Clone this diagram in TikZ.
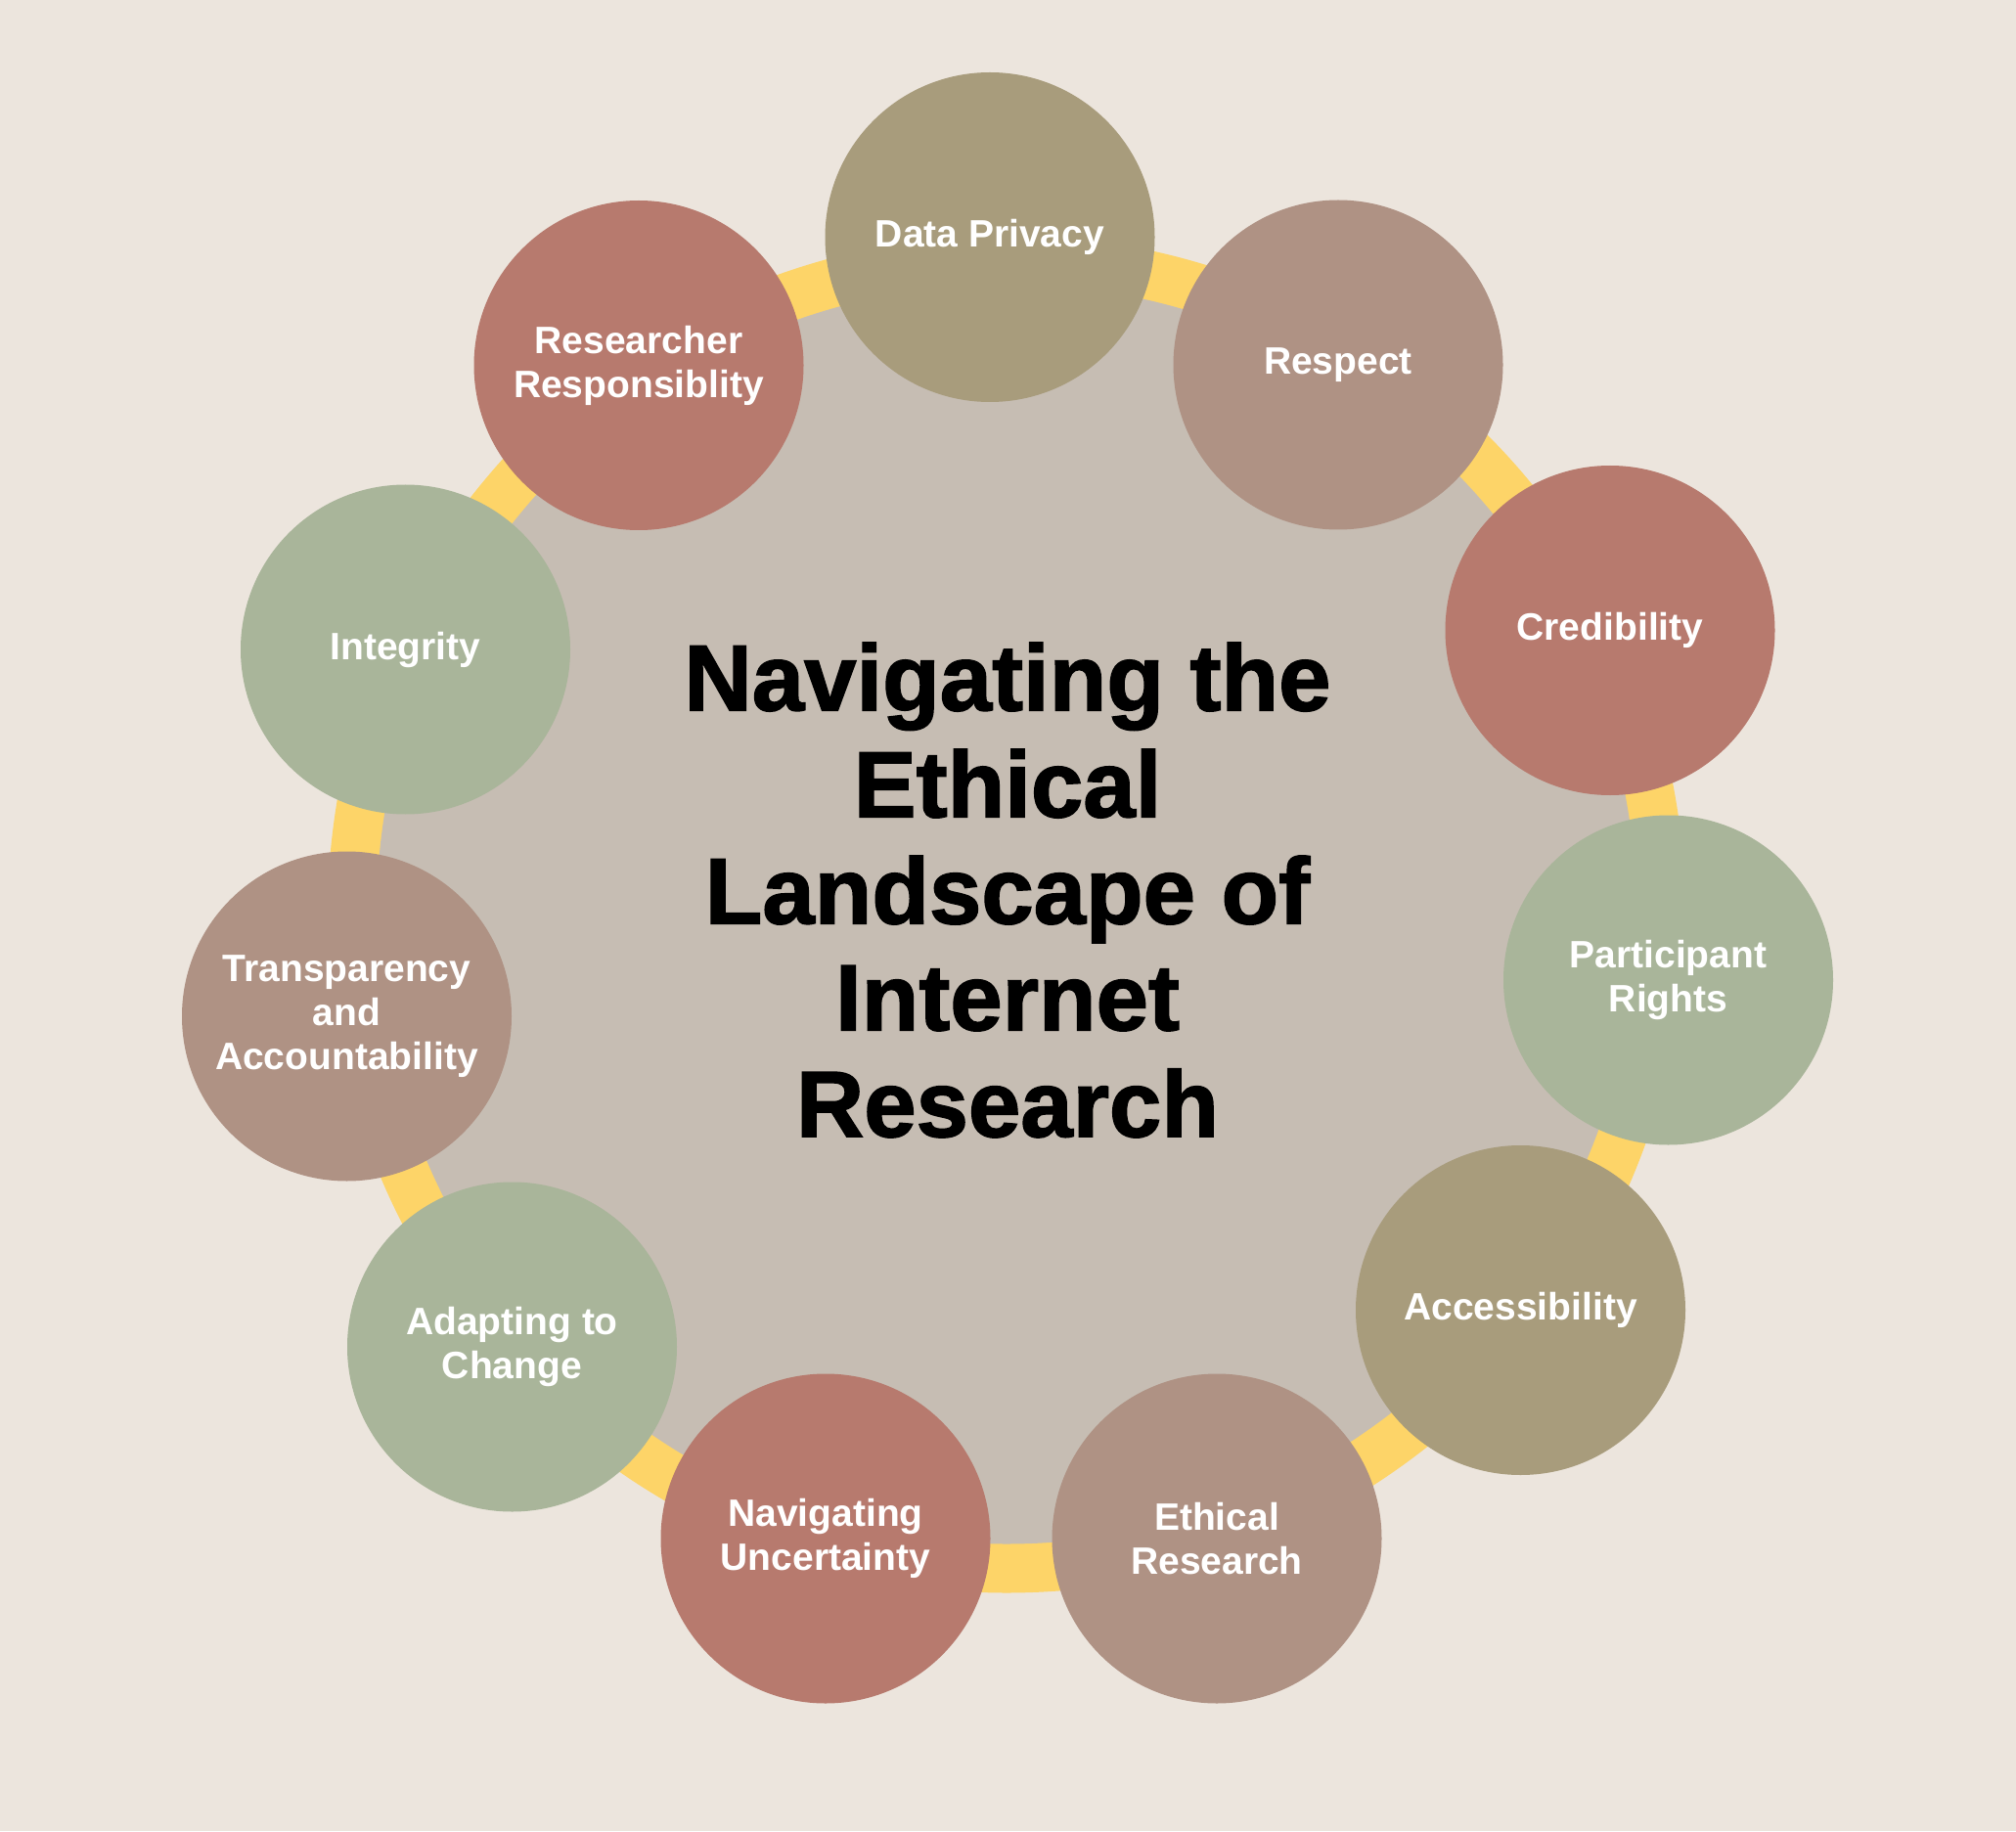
\documentclass[tikz,border=0pt]{standalone}
\usepackage{fontspec}
\setmainfont{Liberation Sans}
\newfontfamily\titlefont{Liberation Sans Bold}[FakeBold=1.6]
\usepackage{tikz}
\usetikzlibrary{positioning}

\definecolor{bgcol}{HTML}{ECE5DD}
\definecolor{ringcol}{HTML}{FDD468}
\definecolor{hubcol}{HTML}{C6BDB3}
\definecolor{olive}{HTML}{A89C7C}
\definecolor{mauve}{HTML}{AF9284}
\definecolor{brick}{HTML}{B77A6E}
\definecolor{sage}{HTML}{A9B59A}

\begin{document}
\begin{tikzpicture}[
        topic/.style={circle, minimum size=3.37cm, inner sep=0pt, align=center,
            text=white, font=\bfseries\fontsize{11.1}{12.8}\selectfont},
        headline/.style={align=center, font=\titlefont\fontsize{27.3}{31}\selectfont}
    ]
                    \fill [bgcol] (0, 0) rectangle (20.61, 18.72);
                    \useasboundingbox (0, 0) rectangle (20.61, 18.72);
                    \fill [ringcol] (10.29, 9.375) circle (6.94);
                    \fill [hubcol] (10.29, 9.375) circle (6.44);

                    \node [headline] (title) at (10.3, 9.62) {Navigating the\\Ethical\\Landscape of\\Internet\\Research};

                    \node [topic, fill=olive] (privacy) at (10.12, 16.295) {Data Privacy};
                    \node [topic, fill=mauve] (respect) at (13.68, 14.99) {Respect};
                    \node [topic, fill=brick] (credibility) at (16.46, 12.275) {Credibility};
                    \node [topic, fill=sage] (rights) at (17.055, 8.70) {Participant\\Rights};
                    \node [topic, fill=olive] (access) at (15.545, 5.325) {Accessibility};
                    \node [topic, fill=mauve] (ethical) at (12.44, 2.99) {Ethical\\Research};
                    \node [topic, fill=brick] (uncertainty) at (8.44, 2.99) {Navigating\\Uncertainty};
                    \node [topic, fill=sage] (change) at (5.235, 4.95) {Adapting to\\Change};
                    \node [topic, fill=mauve] (transparency) at (3.545, 8.33) {Transparency\\and\\Accountability};
                    \node [topic, fill=sage] (integrity) at (4.145, 12.08) {Integrity};
                    \node [topic, fill=brick] (responsibility) at (6.53, 14.985) {Researcher\\Responsiblity};
                \end{tikzpicture}
\end{document}
